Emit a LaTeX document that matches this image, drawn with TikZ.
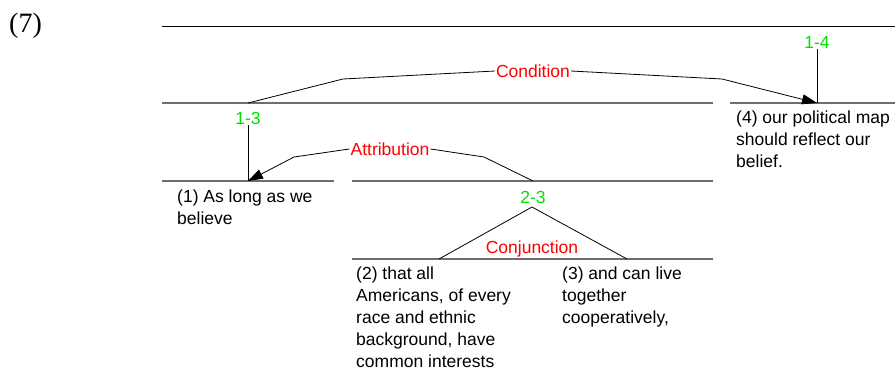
\documentclass[tikz,border=0pt]{standalone}
\usepackage{fontspec}
\setmainfont{Liberation Sans}
\newfontfamily\serifnum{Liberation Serif}
\usetikzlibrary{arrows.meta}
\definecolor{segline}{HTML}{6E6E6E}
\definecolor{relred}{HTML}{FF0000}
\definecolor{spangreen}{HTML}{00E000}
\tikzset{
  txt/.style={font=\fontsize{17.5}{22}\selectfont, inner sep=0pt, anchor=north west, align=left},
  rel/.style={font=\fontsize{17.5}{21}\selectfont, text=relred, fill=white, inner sep=1pt},
  span/.style={font=\fontsize{17.5}{21}\selectfont, text=spangreen, inner sep=1pt},
  hline/.style={draw=segline, line width=1.1pt},
  conn/.style={draw=black, line width=0.8pt},
  arr/.style={conn, -{Triangle[length=15pt,width=10pt]}},
}
\begin{document}
\begin{tikzpicture}[x=1pt,y=-1pt]
\useasboundingbox (0,0) rectangle (895,373);
\node[font=\serifnum\fontsize{28}{30}\selectfont, inner sep=0pt, anchor=base west] (num) at (9,32) {(7)};

% horizontal segment lines
\coordinate (t0) at (162,26);  \coordinate (t1) at (895,26);
\coordinate (a0) at (162,103); \coordinate (a1) at (713,103);
\coordinate (b0) at (730,103); \coordinate (b1) at (895,103);
\coordinate (c0) at (162,181); \coordinate (c1) at (334,181);
\coordinate (d0) at (352,181); \coordinate (d1) at (713,181);
\coordinate (e0) at (352,259); \coordinate (e1) at (713,259);
\draw[black, line width=1pt] (t0) -- (t1);
\draw[hline] (a0) -- (a1);
\draw[hline] (b0) -- (b1);
\draw[hline] (c0) -- (c1);
\draw[hline] (d0) -- (d1);
\draw[hline] (e0) -- (e1);

% span anchor points
\coordinate (n13) at (248,103);
\coordinate (n14) at (817,103);
\coordinate (n1) at (248,181);
\coordinate (n23) at (533,181);
\coordinate (peak) at (532,207);
\coordinate (n2) at (439,259);
\coordinate (n3) at (627,259);
\coordinate (cl) at (343,79);
\coordinate (cr) at (722,79);
\coordinate (al) at (294,157);
\coordinate (ar) at (484,157);

% span labels
\node[span] (l14) at (817,42) {1-4};
\node[span] (l13) at (248,118) {1-3};
\node[span] (l23) at (533,197) {2-3};

% vertical connectors
\draw[conn] (l14.south) -- (n14);
\draw[conn] (l13.south) -- (n1);

% Condition
\node[rel] (cond) at (533,71) {Condition};
\draw[conn] (n13) -- (cl) -- (cond.west);
\draw[arr] (cond.east) -- (cr) -- (n14);

% Attribution
\node[rel] (attr) at (390,149) {Attribution};
\draw[conn] (n23) -- (ar) -- (attr.east);
\draw[arr] (attr.west) -- (al) -- (n1);

% Conjunction
\draw[conn] (n2) -- (peak) -- (n3);
\node[rel] (conj) at (532,249) {Conjunction};

% texts
\node[txt] (s1) at (177,190) {(1) As long as we\\believe};
\node[txt] (s2) at (356,267) {(2) that all\\Americans, of every\\race and ethnic\\background, have\\common interests};
\node[txt] (s3) at (562,267) {(3) and can live\\together\\cooperatively,};
\node[txt] (s4) at (736,111) {(4) our political map\\should reflect our\\belief.};
\end{tikzpicture}
\end{document}
